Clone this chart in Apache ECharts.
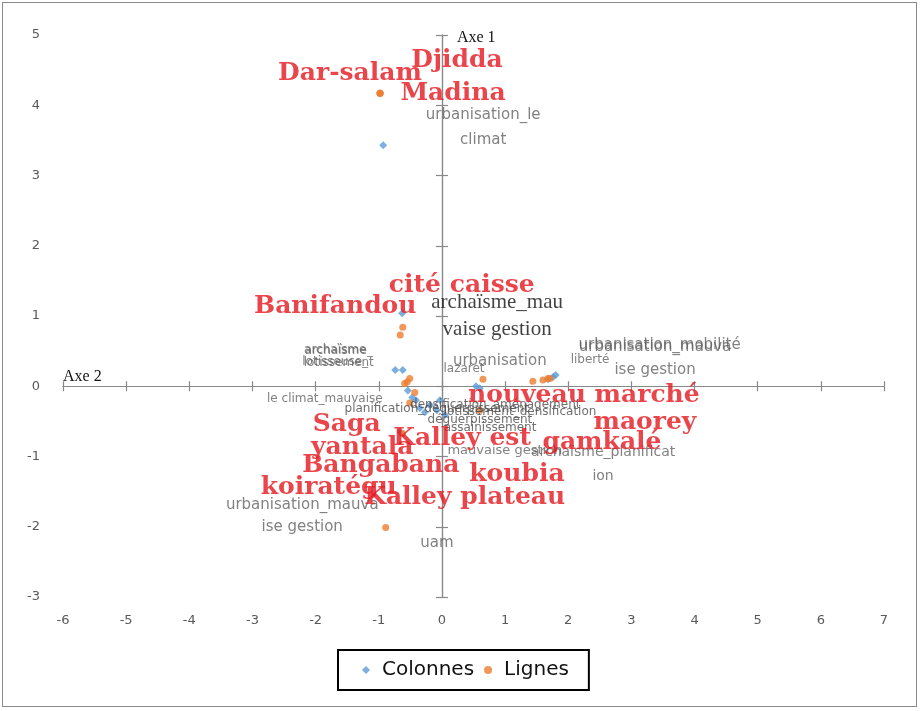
<!DOCTYPE html>
<html><head><meta charset="utf-8">
<script src="https://cdn.jsdelivr.net/npm/echarts@6/dist/echarts.min.js"></script>
<style>
html,body{margin:0;padding:0;background:#fff;}
#c{position:absolute;left:0;top:0;width:924px;height:711px;}
#frame{position:absolute;left:2px;top:2px;width:913px;height:703px;border:1.5px solid #8a8a8a;pointer-events:none;}
</style></head><body>
<div id="c"></div><div id="frame"></div>
<script>
// ---- data ----
const seriesNames = ['Colonnes', 'Lignes'];

const colNames = [
  'urbanisation_le\nclimat', 'archaïsme_mau\nvaise gestion', 'archaïsme\nlotisseuse_', 'archaïsme_\nlotissement',
  'le climat_mauvaise', 'planification_déguerpissement', 'urbanisation', 'lazaret',
  'urbanisation_mauva\nise gestion', 'urbanisation_mobilité', 'liberté', 'densification_aménagement',
  'lotissement_densification', 'déguerpissement', 'mauvaise gestion', 'urbanisation_mauva\nise gestion',
  'archaïsme_planificat\nion', 'uam', 'assainissement'
];
const colX = [-0.93, -0.63, -0.74, -0.62, -0.54, -0.35, 0.60, 0.54, 1.76, 1.80, 1.68, -0.47, -0.41, -0.19, -0.08, -0.66, 0.05, -0.27, -0.03];
const colY = [ 3.43,  1.04,  0.23,  0.23, -0.06, -0.31, -0.03, 0.00, 0.13, 0.16, 0.10, -0.16, -0.20, -0.27, -0.34, -0.65, -0.41, -0.37, -0.20];

const rowNames = [
  'Djidda', 'Dar-salam', 'Madina', 'cité caisse', 'Banifandou', 'nouveau marché', 'maorey', 'gamkalé',
  'Saga', 'yantala', 'Kalley est', 'Bangabana', 'koubia', 'koiratégu', 'Kalley plateau', '', '', ''
];
const rowX = [-0.98, -0.98, -0.98, -0.62, -0.66, 1.44, 1.71, 1.60, -0.51, -0.55, -0.63, -0.43, 0.65, -0.89, -0.51, -0.59, 0.60, 1.68];
const rowY = [ 4.17,  4.17,  4.17,  0.84,  0.73, 0.07, 0.11, 0.09,  0.11,  0.06, -0.67, -0.09, 0.10, -2.01, -0.24, 0.04, -0.34, 0.11];

// ---- label layout (pixel offsets from the point, font size, line height, kind) ----
const colLabelLayout = [
  [100, -18, 15, 25, 'g'], [95, 3, 21, 27, 's'], [-60, -14, 12, 12, 'g'], [-64, -13, 12, 12, 'g'],
  [-83, 8, 12, 14, 'g'], [17, 1, 12, 14, 'd'], [20, -27, 15, 16, 'g'], [-12, -17, 12, 14, 'g'],
  [102, -19, 15, 23, 'g'], [104, -30, 15, 16, 'g'], [42, -19, 12, 14, 'g'], [83, 7, 12, 14, 'd'],
  [104, 12, 12, 14, 'd'], [50, 15, 12, 14, 'd'], [68, 40, 13, 14, 'g'], [-98, 84, 15, 22, 'g'],
  [158, 49, 14, 24, 'g'], [12, 131, 15, 16, 'g'], [50, 28, 12, 14, 'd']
];
const rowLabelOffset = [
  [77, -33], [-30, -20], [73, 0], [59, -42], [-65, -28], [51, 14], [95, 44], [59, 63],
  [-63, 46], [-45, 65], [60, 5], [-34, 73], [34, 95], [-57, -40], [55, 94], [0, 0], [0, 0], [0, 0]
];

const labelFont = 'DejaVu Sans';
const colData = colNames.map((n, i) => {
  const L = colLabelLayout[i];
  const serif = L[4] === 's';
  return {
    name: n, value: [colX[i], colY[i]],
    label: {
      offset: [L[0], L[1]], fontSize: L[2], lineHeight: L[3],
      fontFamily: serif ? 'Liberation Serif' : labelFont,
      color: serif ? '#111' : (L[4] === 'd' ? '#4a4a4a' : '#626262')
    }
  };
});
const rowData = rowNames.map((n, i) => ({
  name: n, value: [rowX[i], rowY[i]],
  label: { offset: rowLabelOffset[i] }
}));

const axisGray = '#888888';
const tickLabel = { color: '#595959', fontSize: 13, fontFamily: 'DejaVu Sans' };
const valueAxisBase = { type: 'value', splitLine: { show: false } };

const chart = echarts.init(document.getElementById('c'), null, { renderer: 'canvas' });
chart.setOption({
  animation: false,
  backgroundColor: '#ffffff',
  grid: { left: 63, right: 40, top: 35, bottom: 114, containLabel: false, outerBoundsMode: 'none' },
  legend: {
    data: [{ name: seriesNames[0], icon: 'diamond' }, { name: seriesNames[1], icon: 'circle' }],
    left: 338, top: 650,
    borderColor: '#000', borderWidth: 2, backgroundColor: '#fff',
    padding: [10, 20, 10, 24], itemGap: 10, itemWidth: 8, itemHeight: 8,
    textStyle: { fontFamily: 'DejaVu Sans', fontSize: 20, color: '#111', padding: [0, 0, 0, 7] }
  },
  xAxis: [
    Object.assign({}, valueAxisBase, { min: -6, max: 7, interval: 1, position: 'bottom',
      axisLine: { show: false, onZero: false }, axisTick: { show: false },
      axisLabel: Object.assign({ margin: 17 }, tickLabel) }),
    Object.assign({}, valueAxisBase, { min: -6, max: 7, interval: 1, position: 'bottom',
      axisLine: { show: true, onZero: true, onZeroAxisIndex: 0, lineStyle: { color: axisGray, width: 1.2 } },
      axisTick: { show: true, length: 5, lineStyle: { color: axisGray, width: 1.2 } }, axisLabel: { show: false },
      name: 'Axe 2', nameLocation: 'start', nameGap: 0,
      nameTextStyle: { fontFamily: 'Liberation Serif', fontSize: 16, color: '#111', align: 'left', verticalAlign: 'bottom', padding: [0, 0, 1, 0] } }),
    Object.assign({}, valueAxisBase, { min: -6, max: 7, interval: 1, position: 'top',
      axisLine: { show: true, onZero: true, onZeroAxisIndex: 0, lineStyle: { color: axisGray, width: 1.2 } },
      axisTick: { show: true, length: 5, lineStyle: { color: axisGray, width: 1.2 } }, axisLabel: { show: false } })
  ],
  yAxis: [
    Object.assign({}, valueAxisBase, { min: -3, max: 5, interval: 1, position: 'left',
      axisLine: { show: false, onZero: false }, axisTick: { show: false },
      axisLabel: Object.assign({ margin: 23 }, tickLabel) }),
    Object.assign({}, valueAxisBase, { min: -3, max: 5, interval: 1, position: 'left',
      axisLine: { show: true, onZero: true, onZeroAxisIndex: 0, lineStyle: { color: axisGray, width: 1.2 } },
      axisTick: { show: true, length: 6, lineStyle: { color: axisGray, width: 1.2 } }, axisLabel: { show: false },
      name: 'Axe 1', nameLocation: 'end', nameGap: -3,
      nameTextStyle: { fontFamily: 'Liberation Serif', fontSize: 16, color: '#111', align: 'left', verticalAlign: 'middle', padding: [0, 0, 0, 15] } }),
    Object.assign({}, valueAxisBase, { min: -3, max: 5, interval: 1, position: 'right',
      axisLine: { show: true, onZero: true, onZeroAxisIndex: 0, lineStyle: { color: axisGray, width: 1.2 } },
      axisTick: { show: true, length: 6, lineStyle: { color: axisGray, width: 1.2 } }, axisLabel: { show: false } })
  ],
  series: [
    {
      name: seriesNames[0], type: 'scatter', xAxisIndex: 0, yAxisIndex: 0,
      symbol: 'diamond', symbolSize: 8, itemStyle: { color: '#5b9bd5' },
      label: { show: true, position: 'inside', formatter: p => p.name, align: 'center', verticalAlign: 'middle' },
      emphasis: { disabled: true },
      data: colData
    },
    {
      name: seriesNames[1], type: 'scatter', xAxisIndex: 0, yAxisIndex: 0,
      symbol: 'circle', symbolSize: 7, itemStyle: { color: '#ed7d31' },
      label: { show: true, position: 'inside', formatter: p => p.name, align: 'center', verticalAlign: 'middle',
        fontFamily: 'DejaVu Serif', fontWeight: 'bold', fontSize: 25, color: '#e3161e' },
      emphasis: { disabled: true },
      data: rowData
    }
  ]
});
</script>
</body></html>
